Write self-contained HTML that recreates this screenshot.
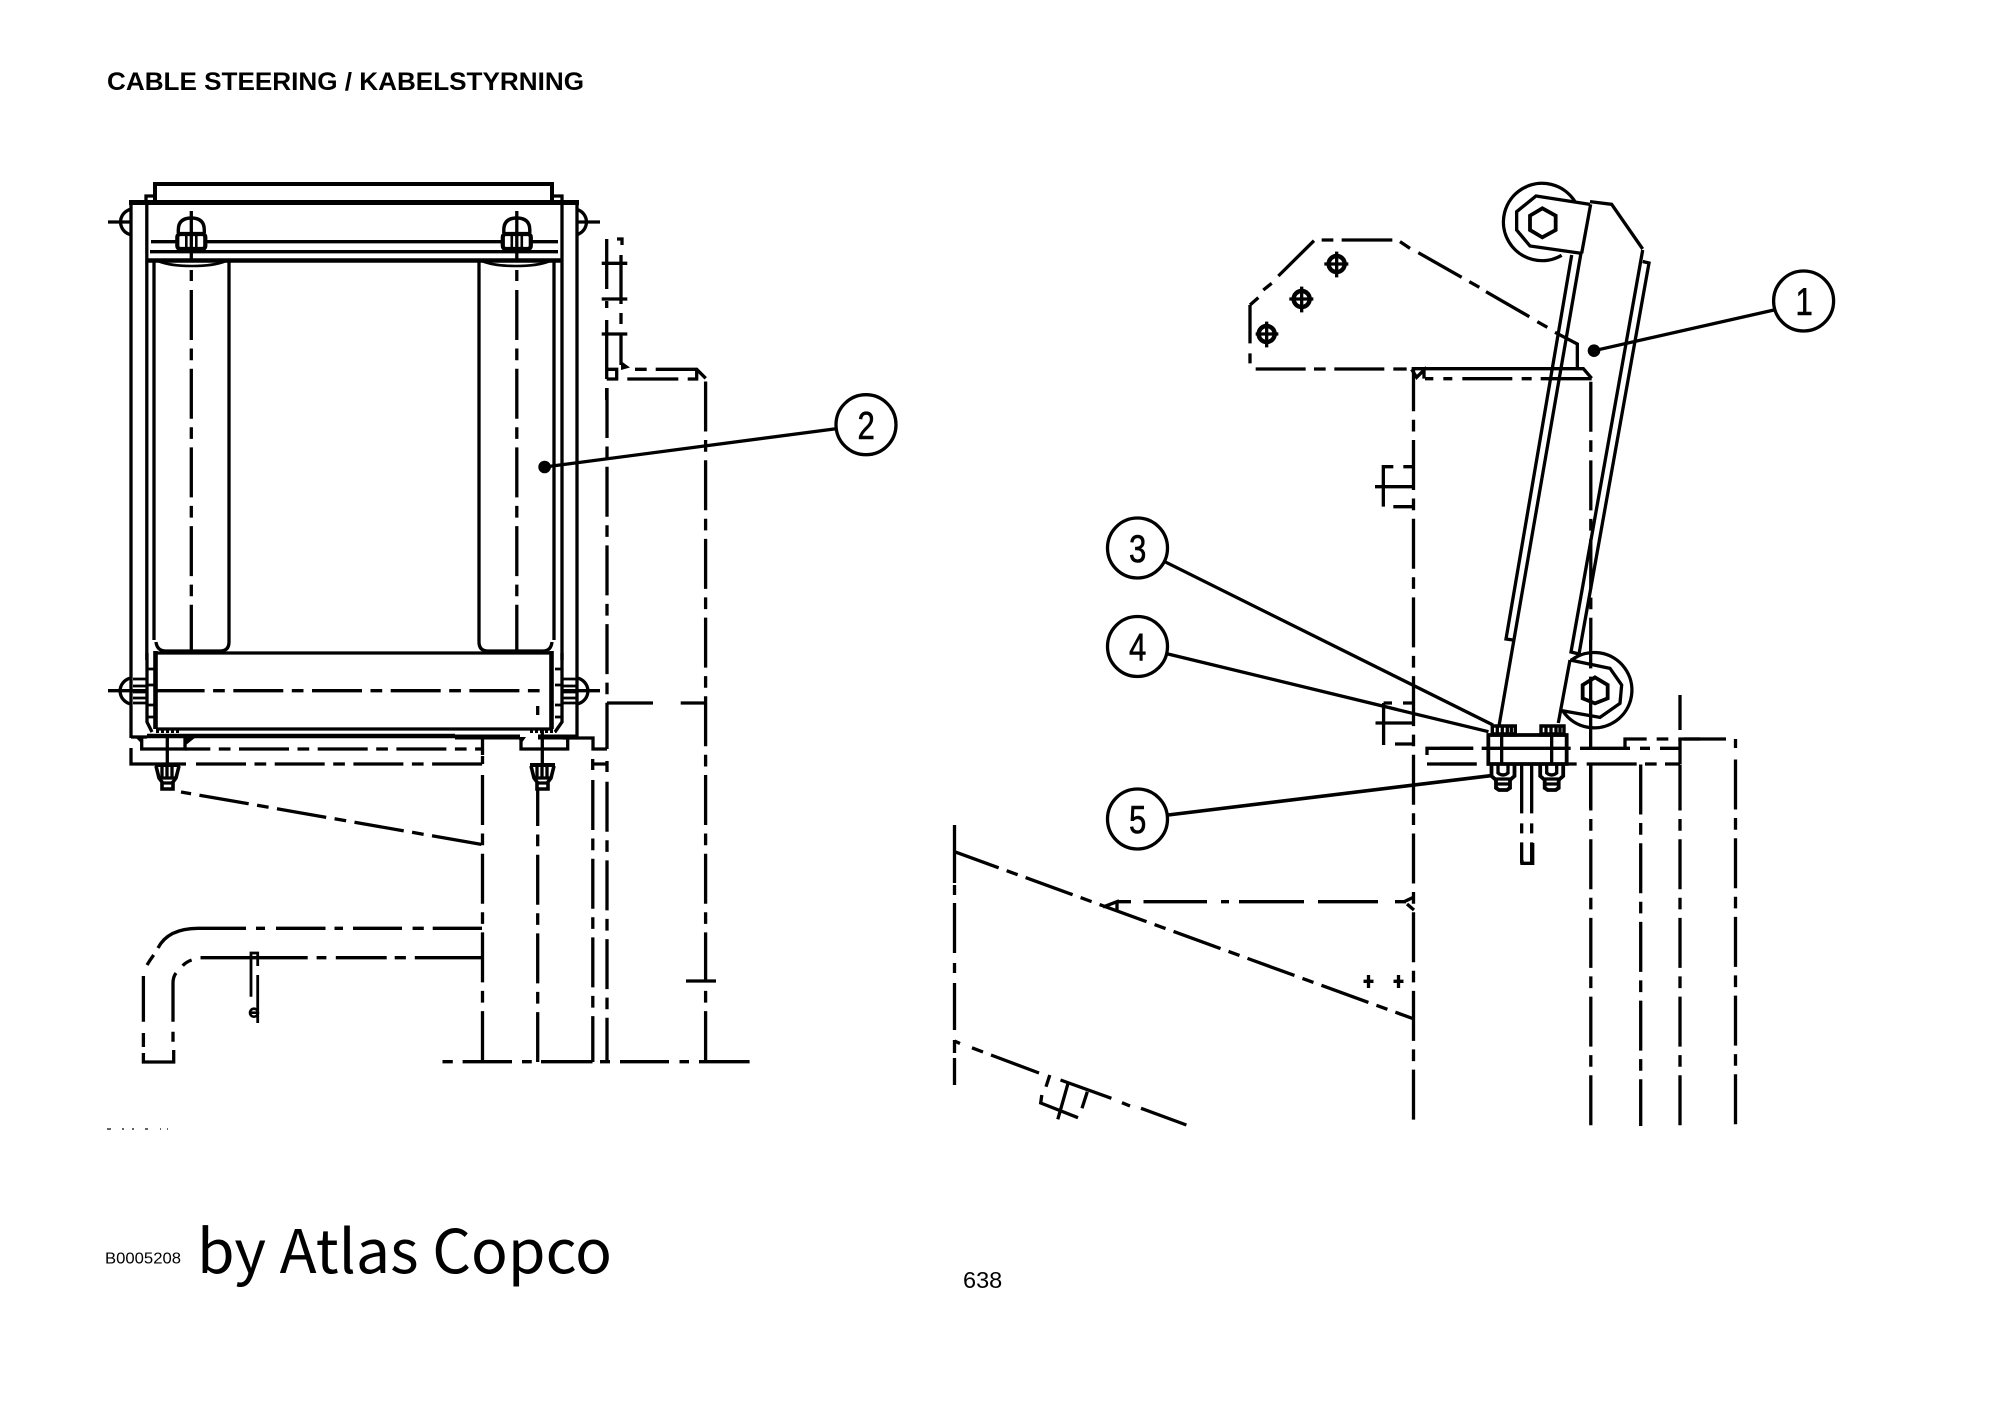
<!DOCTYPE html>
<html><head><meta charset="utf-8"><title>Cable steering</title>
<style>
html,body{margin:0;padding:0;background:#fff}
svg{display:block}
path,line,circle,polyline,polygon,rect,ellipse{vector-effect:non-scaling-stroke}
.s{fill:none;stroke:#000;stroke-width:3.3}
.t{fill:none;stroke:#000;stroke-width:2.6}
.h{fill:none;stroke:#000;stroke-width:4.6}
.d{fill:none;stroke:#000;stroke-width:3.3;stroke-dasharray:50 8.5 11.7 8.5}
.k{fill:#000;stroke:none}
text{fill:#000}
.n{stroke:#000;stroke-width:.6}
</style></head><body>
<svg xmlns="http://www.w3.org/2000/svg" width="2000" height="1414" viewBox="0 0 2000 1414">
<defs>
<g id="cap">
 <path d="M-13 233V230Q-13 218 0 218Q13 218 13 230V233" fill="#fff" stroke="#000" stroke-width="3.4"/>
 <rect x="-14" y="234" width="28" height="15" rx="3" fill="#fff" stroke="#000" stroke-width="4.2"/>
 <path class="t" d="M-5 234V249M0 234V249M5 234V249"/>
 <path class="s" d="M0 211V262"/>
</g>
<g id="nutL">
 <path class="k" d="M-12 -1H13V3H-12Z"/>
 <path class="s" style="stroke-width:3.6" d="M-11 2L-8 14L-5 18V25H6V18L9 14L12 2"/>
 <path class="s" d="M-5 2V13M0 2V13M5 2V13M-8 14H9M-5 19H6"/>
</g>
<g id="nutR">
 <rect x="-11" y="0" width="23" height="9" fill="#fff" stroke="#000" stroke-width="3.4"/>
 <path class="s" d="M-6 0V9M-1 0V9M4 0V9M8 0V9"/>
 <path class="h" style="stroke-width:3.6" d="M-12 8H13"/>
</g>
<g id="nutB">
 <path class="s" style="stroke-width:3.8" d="M-11.5 0V12L-7 16V24L-4 26H4L7 24V16L11.5 12V0"/>
 <path class="s" d="M-5 0V9Q0 13 5 9V0M-7 15H7M-6 20H6"/>
</g>
</defs>
<rect width="2000" height="1414" fill="#fff"/>

<!-- Headings -->
<text x="107" y="90" font-family="Liberation Sans, sans-serif" font-size="25" font-weight="bold" textLength="477" lengthAdjust="spacingAndGlyphs">CABLE STEERING / KABELSTYRNING</text>
<text x="105" y="1263.5" font-family="Liberation Sans, sans-serif" font-size="16" textLength="76" lengthAdjust="spacingAndGlyphs">B0005208</text>
<text x="197" y="1273" font-family="Noto Sans CJK SC, Liberation Sans, sans-serif" font-size="60" textLength="415" lengthAdjust="spacingAndGlyphs">by Atlas Copco</text>
<text x="963" y="1288" font-family="Liberation Sans, sans-serif" font-size="23.5">638</text>

<!-- ==== LEFT VIEW ==== -->
<rect x="155" y="184" width="397" height="18" class="h" style="stroke-width:4"/>
<path class="h" style="stroke-width:5" d="M129 202.5H579"/>
<path class="s" d="M146 202V196H155M552 196H562V202"/>
<path class="s" d="M131 202V738M146.8 202V660M154 260V640M229 262V642Q229 651 220 651H166Q157 651 156 642"/>
<path class="s" d="M577 202V738M562 202V660M554 260V640M479 262V642Q479 651 488 651H543Q551 651 552 642"/>
<path class="s" d="M151 241.7H558M150 251.7H558"/>
<path class="h" d="M146 260.5H562"/>
<path class="t" d="M158 261Q170 266 192 266Q214 266 226 261M482 261Q494 266 516 266Q538 266 550 261"/>
<use href="#cap" x="191.3"/><use href="#cap" x="516.8"/>
<path class="s" d="M130 209.5A13 13 0 0 0 130 234.5M108 222H130"/>
<path class="s" d="M577 209.5A13 13 0 0 1 577 234.5M577 222H600"/>
<path class="d" d="M191.3 290V653M516.8 290V653"/>
<path class="s" d="M191.3 270V281M516.8 270V281"/>

<!-- lower box -->
<path class="s" d="M156 653H552"/>
<path class="h" d="M155.5 651V729M551.5 651V729"/>
<path class="s" d="M156 729H552"/>
<path class="h" d="M147 736H455"/>
<path class="h" style="stroke-width:5" d="M455 737H520M538 737H578"/>
<path class="s" d="M131 737H147"/>
<path class="d" d="M154.6 690.7H541"/>
<path class="s" d="M108 690.7H147M563 690.7H600"/>
<path class="s" d="M537.7 706V715"/>
<path class="s" d="M147 653V722L152 732M562 653V722L555 732"/>
<path class="h" style="stroke-width:2.8" d="M147 669H155M147 685H155M147 705H155M147 717H155M555 669H562M555 685H562M555 705H562M555 717H562"/>
<path class="h" style="stroke-width:2.8" d="M133 679H146M133 686H146M133 692H146M133 698H146M133 703H146M563 679H576M563 686H576M563 692H576M563 698H576M563 703H576"/>
<path class="s" d="M131 678A13.2 13.2 0 0 0 131 704"/>
<path class="s" d="M577 678A13.2 13.2 0 0 1 577 704"/>
<path class="h" style="stroke-dasharray:3 2;stroke-width:4" d="M156 731H181M530 731H556"/>
<path class="k" d="M135 737H142V744ZM185 737H196L186 745ZM518 737H526L521 744Z"/>
<path class="s" d="M141.7 737V749H185V737M521 737V749H567.7V737"/>
<path class="s" d="M167.3 736V765M542.3 730V765"/>
<path class="s" style="stroke-dasharray:50 8.5 11.7 8.5;stroke-dashoffset:24.7" d="M185 749H483"/>
<path class="s" d="M131 748V764H186"/>
<path class="d" d="M196 764H483"/>
<path class="s" d="M482.5 736V755M482.5 756V764"/>
<use href="#nutL" x="167" y="764"/><use href="#nutL" x="542" y="764"/>
<path class="s" d="M563 738H593V749H607"/>
<path class="s" d="M592.7 759V770M592.7 764H607M607 761V772"/>

<!-- left verticals -->
<path class="d" d="M482.5 775V1062"/>
<path class="s" style="stroke-dasharray:50 8.5 11.7 8.5;stroke-dashoffset:14" d="M537.7 790V1062"/>
<path class="d" d="M592.8 780V1062"/>
<path class="d" d="M607 781.7V1062"/>
<path class="s" style="stroke-dasharray:50 8.5 11.7 8.5" d="M705.6 381.5V1062"/>
<path class="d" d="M607 388V703"/>
<path class="s" d="M607 703V749M607 703H653M680.7 703H705.7M686 981H716"/>
<path class="s" d="M442.5 1061.7H452.8M462.6 1061.7H512M522 1061.7H531.8M541 1061.7H592.5M600 1061.7H610M620 1061.7H669M679.5 1061.7H689M699 1061.7H749.6"/>

<!-- top-right stack -->
<path class="s" d="M606.7 239V289M606.7 301V308M606.7 320V379M606.7 388V400"/>
<path class="s" d="M617 239H622V245M621 255V304M621 313V324M621 334V365"/>
<path class="s" d="M601.7 263.3H627.3M601.7 299H627.3M601.7 334H627.3"/>
<path class="s" d="M606.7 369.3H618.3M635 369.3H646.7M655.7 369.3H696.7L705.7 378.3M606.7 379H618.3M627.3 379H678.3M687.7 379H698.3M696.7 369.3V379M616.7 369.3V379"/>
<path class="k" d="M621 361L630 367.5L621 370Z"/>

<!-- slanted dash -->
<path class="s" style="stroke-dasharray:50 8.5 11.7 8.5;stroke-dashoffset:60" d="M181 792L482 844.5"/>

<!-- pipe -->
<path class="s" d="M198 928.3H246M256 928.3H265M276 928.3H325.5M334.5 928.3H343M353 928.3H402M412.6 928.3H423.8M432.7 928.3H482"/>
<path class="s" d="M198 928.3Q168 928.5 158 948M153.7 955Q150 960 147 965M143.4 976V1021.7M143.4 1033V1047M143.4 1053V1062H173.7V1050M173 1041.7V1031.7M173 1021.7V983Q173 977 176 973M182.7 965.7Q186 962 191.6 960"/>
<path class="s" d="M200.5 957.7H307.7M316.6 957.7H326.4M335.8 957.7H386.7M394.7 957.7H405.9M414.8 957.7H482"/>
<path class="s" style="stroke-width:2.8" d="M251 996.7V953H257.7V966M257.7 975V1023"/>
<circle cx="254" cy="1012.7" r="4" class="t"/>
<path class="t" d="M250 1012.7H258"/>
<path d="M107 1129h4M122 1129h2M132 1129h2M145 1129h3M160 1129h1M167 1129h1" stroke="#666" stroke-width="2" fill="none"/>

<!-- Balloon 2 -->
<circle cx="866" cy="424.7" r="30" class="s"/>
<text class="n" transform="translate(857.5 439) scale(.8 1)" font-family="Liberation Sans, sans-serif" font-size="39">2</text>
<circle cx="544.6" cy="467" r="6.3" class="k"/>
<path class="s" d="M544.6 467L836 428.7"/>

<!-- ==== RIGHT VIEW ==== -->
<g transform="translate(1200 170) scale(.33333)">
 <path class="s" d="M150 405L175 383M190 360L215 340M235 318L342 212M365 210H400M425 210H577M600 215L630 235M655 248L785 322M808 335L838 352M858 365L988 440M1012 455L1042 472M1065 487L1132 522V595"/>
 <path class="s" d="M150 405V520M150 550V580M167 597H317M342 597H377M403 597H553M580 597H620"/>
 <g>
  <circle cx="200" cy="492" r="24" class="s" style="stroke-width:4.4"/><path class="s" d="M200 455V532M167 492H235"/>
  <circle cx="305" cy="387" r="24" class="s" style="stroke-width:4.4"/><path class="s" d="M305 350V427M268 387H340"/>
  <circle cx="410" cy="282" r="24" class="s" style="stroke-width:4.4"/><path class="s" d="M410 245V322M373 282H445"/>
 </g>
 <path class="s" d="M1125 95A116 116 0 1 0 1085 256"/>
 <path class="s" d="M1170 103L1008 78L950 125V180L990 228L1145 250"/>
 <polygon class="s" style="stroke-width:3.8" points="1027,115 1067,137 1067,180 1027,202 990,180 990,137"/>
 <path class="s" d="M1170 95L1235 103L1328 237"/>
 <path class="s" d="M1172 103L1145 250"/>
 <path class="s" d="M635 596H1150L1175 625M675 626H700M730 626H757M787 626H937M965 626H995M1022 626H1175"/>
 <path class="s" d="M635 598L650 622L672 600V626"/>
 <path class="s" d="M550 1010V890H580M610 890H640M525 950H640M580 1010H640"/>
</g>
<!-- bands -->
<path class="s" d="M1571.7 255L1506 639L1513 640"/>
<path class="s" d="M1581 253L1499 726"/>
<path class="s" d="M1642.7 250L1571 652L1579 654L1649 263L1642.7 261.5"/>
<path class="s" d="M1570 660L1558.3 723"/>

<!-- lower assembly -->
<g transform="translate(1440 640) scale(.33333)">
 <path class="s" d="M395 60A113 113 0 1 1 370 215"/>
 <path class="s" d="M390 60L510 85L545 135L540 190L480 232L365 212"/>
 <polygon class="s" style="stroke-width:3.8" points="465,112 503,135 503,175 465,190 428,175 428,135"/>
 <rect x="145" y="285" width="235" height="87" class="s" style="stroke-width:3.8"/>
 <path class="s" d="M185 285V372M335 285V372"/>
 <path class="s" d="M125 325H392M420 325H570M0 325H100M600 325H630M660 325H720"/>
 <path class="s" d="M0 372H110M385 372H410M440 372H590M615 372H650M675 372H720"/>
 <path class="s" d="M555 325V297H620M650 297H685M715 297H780"/>
 <path class="s" d="M720 165V270M720 297V372"/>
 <path class="s" d="M245 375V520M245 550V580M275 375V520M275 550V580M245 607V670M275 607V670"/>
 <path class="s" d="M452 0V85M452 110V325M452 372V505"/>
</g>
<use href="#nutR" x="1503.3" y="726"/><use href="#nutR" x="1552" y="726"/>
<use href="#nutB" x="1503" y="764"/><use href="#nutB" x="1551.7" y="764"/>
<path class="s" d="M1522 860V863.3H1532.7V843"/>
<path class="s" d="M1427 755V748.3H1473M1427 764H1476.7"/>
<path class="s" d="M1684 739H1726M1735.5 739V748"/>

<path class="s" style="stroke-dasharray:50 8.5 11.7 8.5;stroke-dashoffset:4" d="M1590.8 764.5V1126"/>
<path class="d" d="M1640.7 764.5V1126"/>
<path class="s" style="stroke-dasharray:50 8.5 11.7 8.5;stroke-dashoffset:4" d="M1680 764.5V1126"/>
<path class="d" d="M1735.5 759.5V1126"/>
<path class="d" d="M1590.8 381.7V640"/>
<path class="s" style="stroke-dasharray:50 8.5 11.7 8.5;stroke-dashoffset:6.7" d="M1413.5 368V1120"/>

<path class="s" d="M1383.6 703V745M1383.6 703H1392M1403 703H1413M1375.5 723H1413M1395 744H1413"/>

<!-- bottom slants -->
<path class="s" d="M954.5 825V883M954.5 885V895M954.5 903V953M954.5 963V973M954.5 983V1030M954.5 1040V1053M954.5 1058V1085"/>
<path class="s" style="stroke-dasharray:50 8.5 11.7 8.5;stroke-dashoffset:3" d="M954.5 851.7L1414 1019"/>
<path class="s" d="M1117 901.7H1131M1143.5 901.7H1207M1221 901.7H1229M1239 901.7H1304M1318 901.7H1378M1395 901.7H1406"/>
<path class="s" d="M1103 907L1117 901.7V910M1404 901.7L1414 897M1407 904L1414 910"/>
<path class="s" d="M1363.5 981.3H1373.5M1368.5 975V988M1393.5 981.3H1403.5M1398.5 975V988"/>
<path class="s" d="M954.5 1041L960 1043.5M972 1047.8L983 1052M991 1055L1039 1073M1060.5 1080L1111.4 1098.3M1122 1102.7L1130 1106M1141 1108.3L1186.4 1125"/>
<path class="s" d="M1049.8 1075L1046 1086.7M1041.8 1095L1040.7 1103L1078 1117.7M1068.5 1081.7L1057.8 1119.3M1087.3 1091.7L1082 1108.3"/>

<!-- Balloons right -->
<circle cx="1803.6" cy="301" r="30" class="s"/>
<text class="n" transform="translate(1795.5 315) scale(.8 1)" font-family="Liberation Sans, sans-serif" font-size="39">1</text>
<circle cx="1594" cy="350.7" r="6.3" class="k"/>
<path class="s" d="M1594 350.7L1774 310"/>

<circle cx="1137.5" cy="548" r="30" class="s"/>
<text class="n" transform="translate(1129 562) scale(.8 1)" font-family="Liberation Sans, sans-serif" font-size="39">3</text>
<path class="s" d="M1164.8 561.7L1493 725"/>

<circle cx="1137.5" cy="646.5" r="30" class="s"/>
<text class="n" transform="translate(1129 660.5) scale(.8 1)" font-family="Liberation Sans, sans-serif" font-size="39">4</text>
<path class="s" d="M1168 654L1488.5 731.7"/>

<circle cx="1137.5" cy="819" r="30" class="s"/>
<text class="n" transform="translate(1129 833) scale(.8 1)" font-family="Liberation Sans, sans-serif" font-size="39">5</text>
<path class="s" style="stroke-width:3.6" d="M1168 815L1490.7 775.7"/>
</svg>
</body></html>
